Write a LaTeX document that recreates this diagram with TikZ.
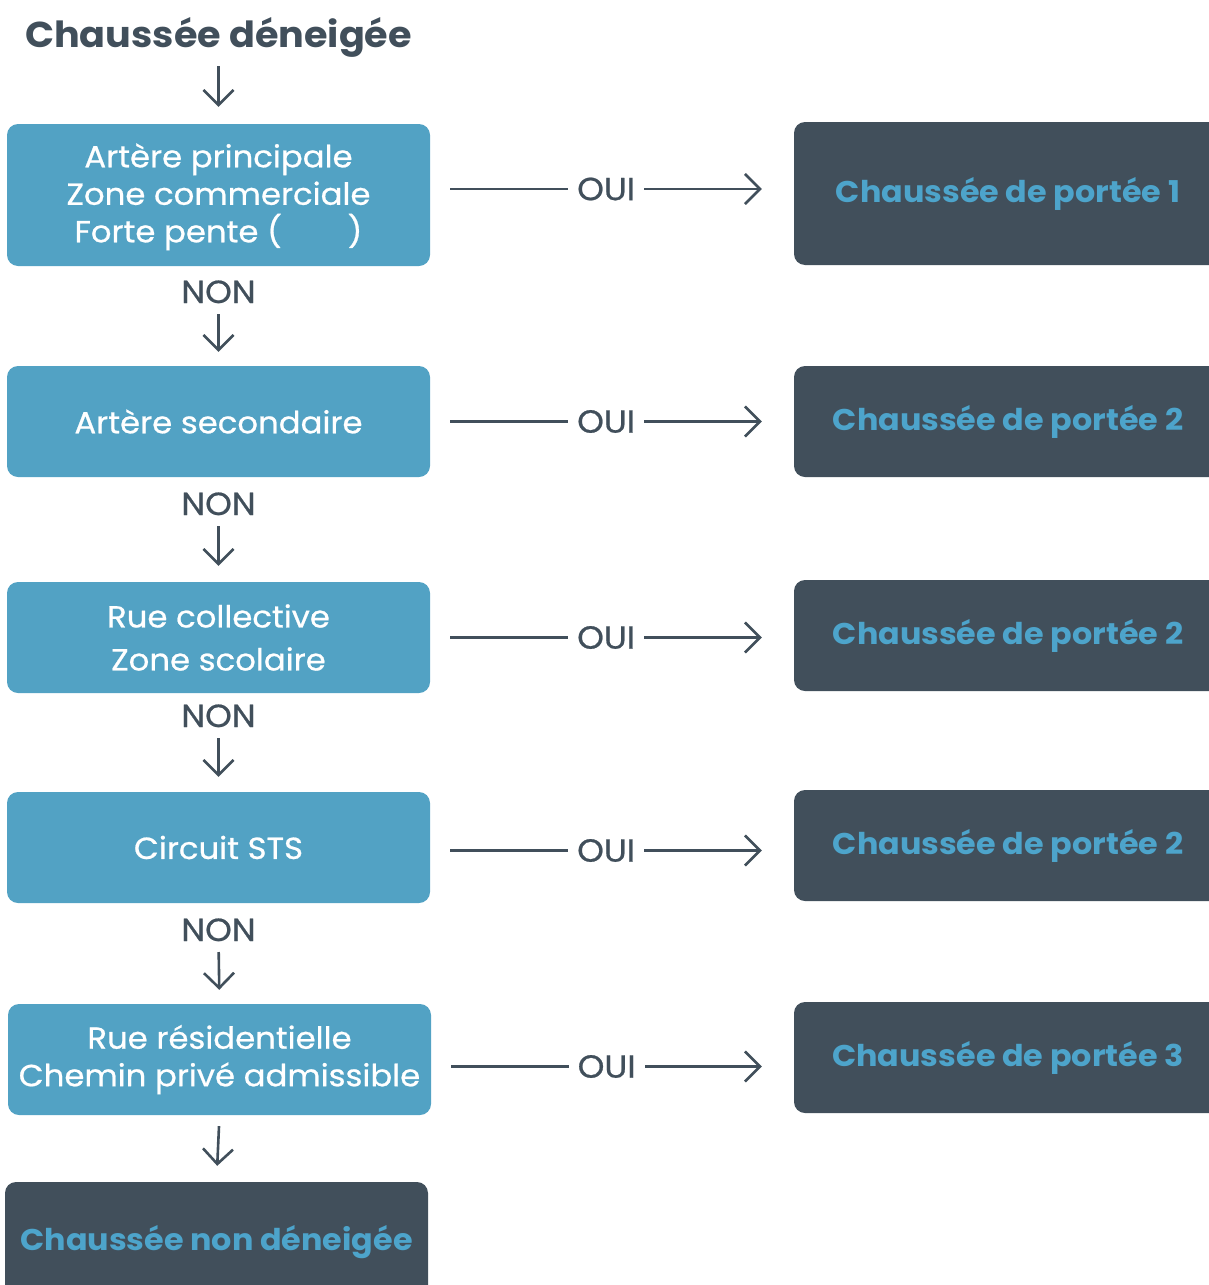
\documentclass[tikz,border=0pt]{standalone}
\usepackage{fontspec}
\setmainfont{Poppins}[FakeStretch=1.06,UprightFeatures={FakeBold=0.7}]
\usetikzlibrary{arrows.meta}
\definecolor{boxblue}{HTML}{52A2C4}
\definecolor{slate}{HTML}{414F5B}
\definecolor{labelblue}{HTML}{4DA4CB}
\tikzstyle{arrow} = [line width=2.6pt,draw=slate,-{Straight Barb[length=15pt,width=30pt,line width=2.6pt]}]

\begin{document}
\begin{tikzpicture}[x=1pt,y=-1pt]

\tikzset{question/.style = {rectangle,rounded corners=11pt,fill=boxblue,text=white,minimum width=423pt,align=center,inner sep=0pt,font=\fontsize{30.5}{37.5}\selectfont},
         result/.style = {rectangle,rounded corners=11pt,fill=slate,text=labelblue,minimum width=428pt,minimum height=111pt,align=center,font=\fontsize{30}{36}\selectfont\bfseries},
         answer/.style = {text=slate,font=\fontsize{32}{36}\selectfont,inner sep=0pt},
         oui/.style = {answer,fill=white,inner xsep=9pt}}

\clip (0,0) rectangle (1209,1285);

\node[answer,anchor=base,font=\fontsize{36}{42}\selectfont\bfseries] (title) at (218.5,47) {Chaussée déneigée};

% questions
\node[question,minimum height=142pt] (q1) at (218.5,195) {\\[-10pt]Artère principale\\Zone commerciale\\Forte pente (\hspace{66pt})};
\node[question,minimum height=111pt] (q2) at (218.5,421.5) {Artère secondaire};
\node[question,minimum height=111pt,font=\fontsize{30.5}{43}\selectfont] (q3) at (218.5,637.5) {Rue collective\\Zone scolaire};
\node[question,minimum height=111pt] (q4) at (218.5,847.5) {Circuit STS};
\node[question,minimum height=111pt] (q5) at (219.5,1059.5) {Rue résidentielle\\Chemin privé admissible};
\node[result,minimum width=423pt,minimum height=120pt] (none) at (216.5,1242) {Chaussée non déneigée};

% results
\node[result,minimum height=143pt] (r1) at (1008,193.5) {Chaussée de portée 1};
\node[result] (r2) at (1008,421.5) {Chaussée de portée 2};
\node[result] (r3) at (1008,635.5) {Chaussée de portée 2};
\node[result] (r4) at (1008,845.5) {Chaussée de portée 2};
\node[result] (r5) at (1008,1057.5) {Chaussée de portée 3};

% NON labels
\node[answer,anchor=base] (n1) at (218.5,303) {NON};
\node[answer,anchor=base] (n2) at (218.5,515) {NON};
\node[answer,anchor=base] (n3) at (218.5,727) {NON};
\node[answer,anchor=base] (n4) at (218.5,941) {NON};

\draw[arrow,shorten <=19pt,shorten >=17pt] (title.base) -- (q1.north);
\draw[arrow,shorten <=11pt,shorten >=14pt] (n1.base) -- (q2.north);
\draw[arrow,shorten <=11pt,shorten >=16pt] (n2.base) -- (q3.north);
\draw[arrow,shorten <=11pt,shorten >=15pt] (n3.base) -- (q4.north);
\draw[arrow,shorten <=11pt,shorten >=14pt] (n4.base) -- (q5.north);
\draw[arrow,shorten <=11pt,shorten >=16pt] (q5.south) -- (none.north);

\foreach \i/\dy in {1/6,2/0,3/0,4/-3,5/-7}
  \draw[arrow,shorten <=20pt,shorten >=32pt] ([yshift=\dy pt]q\i.east) -- node[oui,pos=0.484] {OUI} ([yshift=\dy pt]q\i.east -| r\i.west);

\end{tikzpicture}
\end{document}
